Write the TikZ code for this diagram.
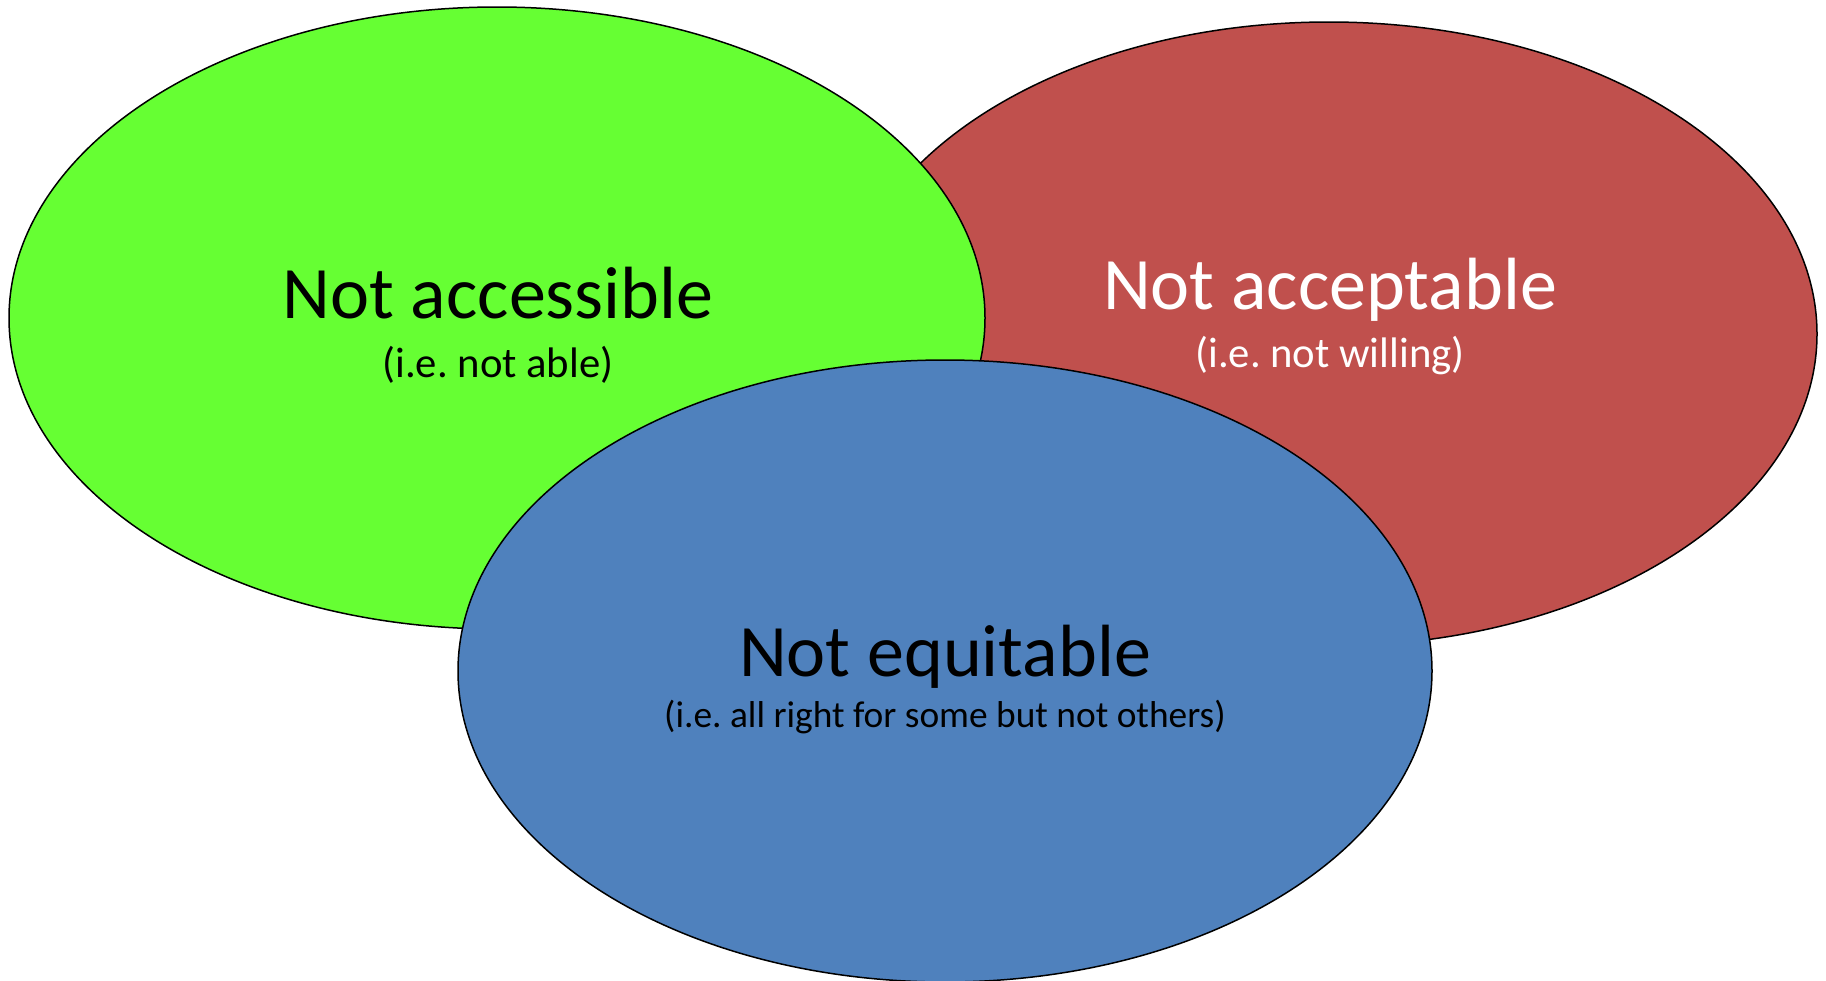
\documentclass[tikz,border=0pt]{standalone}
\usepackage{fontspec}
\setmainfont{Carlito}
\frenchspacing
\definecolor{accessgreen}{HTML}{66FF33}
\definecolor{acceptred}{HTML}{C0504D}
\definecolor{equitblue}{HTML}{4F81BD}
\begin{document}
\begin{tikzpicture}[x=1pt,y=-1pt,
    blob/.style={draw=black,line width=1.5pt},
    headline/.style={anchor=base,inner sep=0pt,font=\fontsize{74}{88}\selectfont},
    subline/.style={anchor=base,inner sep=0pt,font=\fontsize{42.7}{50}\selectfont}]
        \useasboundingbox (0,0) rectangle (1826,980);
        % --- Draw the three ellipses ---
        \draw[blob,fill=acceptred] (1329,334) ellipse (488 and 312);
        \draw[blob,fill=accessgreen] (497,318) ellipse (488 and 311);
        \draw[blob,fill=equitblue] (945,671) ellipse (487 and 311);
        % ---

        % --- Labels ---
        \node[headline] (access) at (498,318) {Not accessible};
        \node[subline] (accesssub) at (498,377) {(i.e. not able)};
        \node[headline,text=white] (accept) at (1330,309) {Not acceptable};
        \node[subline,text=white] (acceptsub) at (1330,367) {(i.e. not willing)};
        \node[headline] (equit) at (945,676) {Not equitable};
        \node[subline,font=\fontsize{37.4}{44}\selectfont] (equitsub) at (945,727) {(i.e. all right for some but not others)};
        % ---
\end{tikzpicture}
\end{document}
